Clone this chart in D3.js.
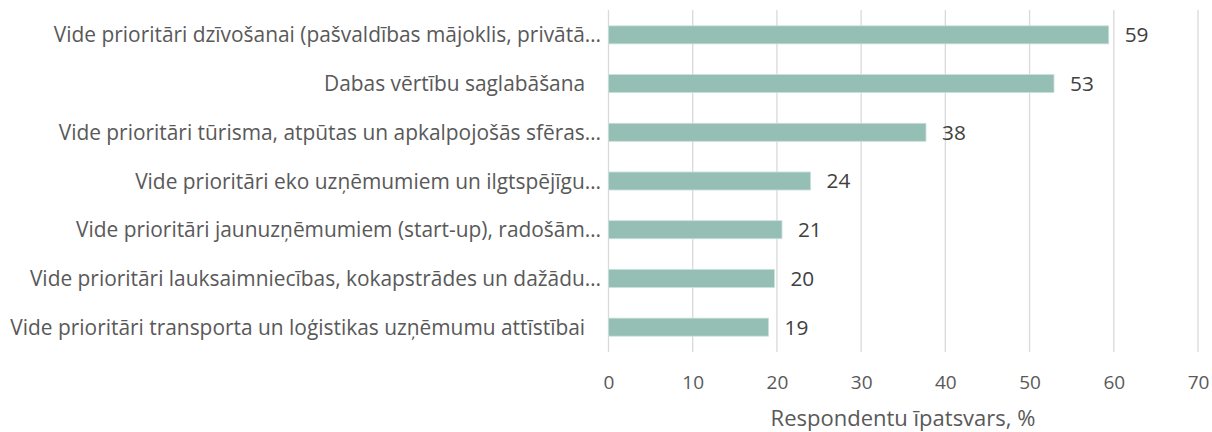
<!DOCTYPE html>
<html>
<head>
<meta charset="utf-8">
<script src="https://cdn.jsdelivr.net/npm/d3@7"></script>
<style>
  body { margin: 0; background: #fff; }
  text { font-family: "Open Sans", sans-serif; }
</style>
</head>
<body>
<div id="vis"></div>
<script>
'use strict'

// categories, top to bottom
const categories = [
  "Vide prioritāri dzīvošanai (pašvaldības mājoklis, privātā…",
  "Dabas vērtību saglabāšana ",
  "Vide prioritāri tūrisma, atpūtas un apkalpojošās sfēras…",
  "Vide prioritāri eko uzņēmumiem un ilgtspējīgu…",
  "Vide prioritāri jaunuzņēmumiem (start-up), radošām…",
  "Vide prioritāri lauksaimniecības, kokapstrādes un dažādu…",
  "Vide prioritāri transporta un loģistikas uzņēmumu attīstībai "
]
// share of respondents, %
const values = [59.4, 52.9, 37.7, 24.0, 20.6, 19.7, 19.0]
const xTicks = [0, 10, 20, 30, 40, 50, 60, 70]
const xTitle = "Respondentu īpatsvars, %"

function wrapper(){
  let width = 1212
  let height = 432

  let svg = d3.select("#vis").append("svg")
    .attr("width", width)
    .attr("height", height)

  let x = d3.scaleLinear().domain([0, 70]).range([608.5, 1198])
  let y = d3.scaleBand().domain(categories).range([10.5, 351.5]).paddingInner(0.63).paddingOuter(0.315)

  // gridlines
  svg.append("g").selectAll("line")
    .data(xTicks)
    .join("line")
    .attr("x1", d => x(d))
    .attr("x2", d => x(d))
    .attr("y1", 10)
    .attr("y2", 352)
    .attr("stroke", "#d9d9d9")
    .attr("stroke-width", 1.3)

  // bars
  let data = categories.map((c, i) => ({cat: c, val: values[i]}))
  svg.append("g").selectAll("rect")
    .data(data)
    .join("rect")
    .attr("x", x(0))
    .attr("y", d => y(d.cat))
    .attr("width", d => x(d.val) - x(0))
    .attr("height", y.bandwidth())
    .attr("fill", "#95bfb4")
    .attr("stroke", "#c9e0da")
    .attr("stroke-width", 0.8)

  // value labels
  svg.append("g").selectAll("text")
    .data(data)
    .join("text")
    .attr("x", d => x(d.val) + 16)
    .attr("y", d => y(d.cat) + y.bandwidth() / 2)
    .attr("dy", "0.36em")
    .attr("fill", "#404040")
    .style("font-size", "20.8px")
    .text(d => d3.format(".0f")(d.val))

  // category labels
  let yAxis = d3.axisLeft(y).tickSize(0).tickPadding(7.5)
  let ya = svg.append("g").attr("transform", "translate(" + x(0) + ",0)").call(yAxis)
  ya.select(".domain").remove()
  ya.selectAll("text")
    .attr("fill", "#595959")
    .style("font-size", "20.9px")
    .attr("xml:space", "preserve")
    .attr("dx", d => d.endsWith(" ") ? "-0.5em" : 0)
    .attr("dy", "0.36em")

  // x axis labels
  let xAxis = d3.axisBottom(x).tickValues(xTicks).tickSize(0).tickPadding(0)
  let xa = svg.append("g").attr("transform", "translate(0,382.5)").call(xAxis)
  xa.select(".domain").remove()
  xa.selectAll("text")
    .attr("fill", "#595959")
    .style("font-size", "19px")
    .attr("dy", "0.36em")

  // axis title
  svg.append("text")
    .attr("x", 903)
    .attr("y", 418.5)
    .attr("dy", "0.36em")
    .attr("text-anchor", "middle")
    .attr("fill", "#595959")
    .style("font-size", "22px")
    .text(xTitle)
}

wrapper()
</script>
</body>
</html>
